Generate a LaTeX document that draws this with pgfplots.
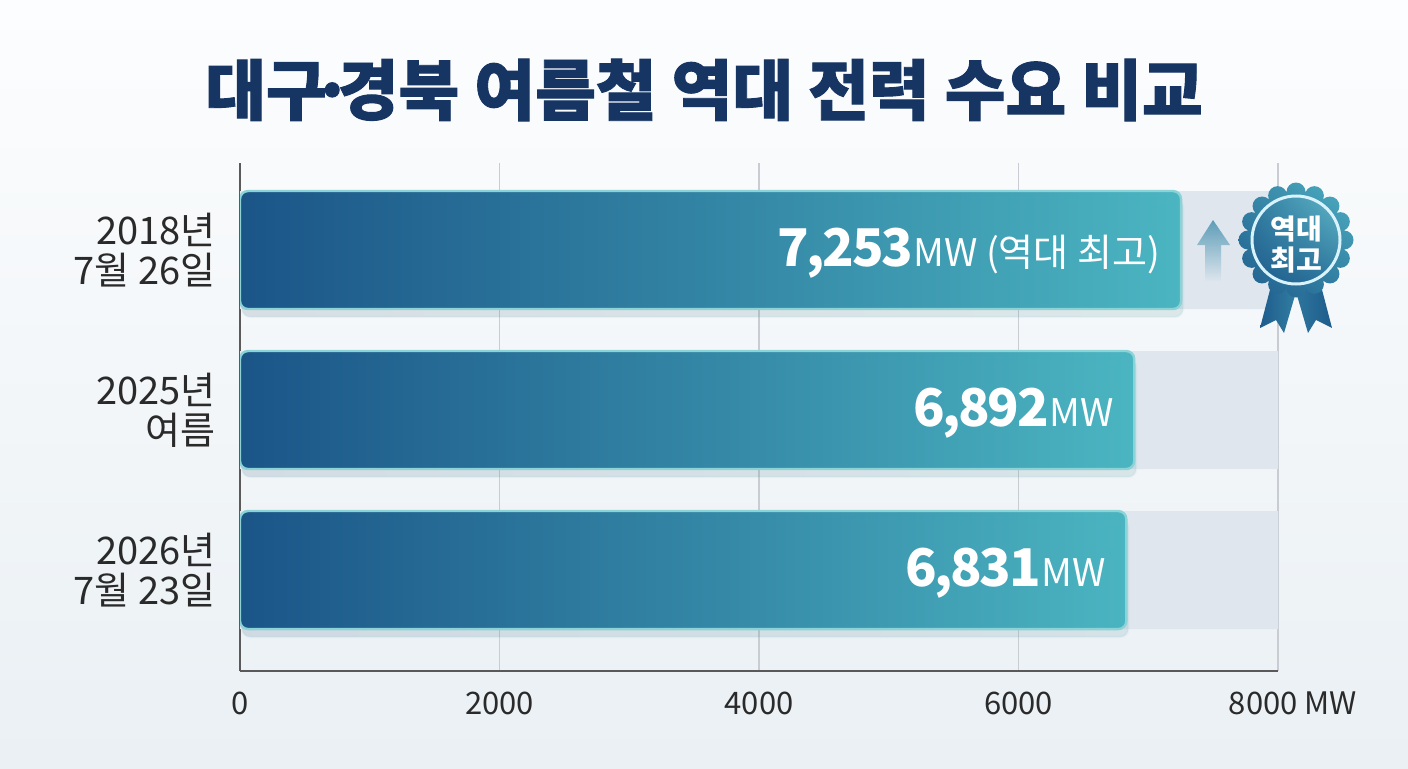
\documentclass[border=0pt]{standalone}
\usepackage{fontspec}
\setmainfont{Noto Sans CJK KR}
\newfontfamily\titlefont{Noto Sans CJK KR}[BoldFeatures={FakeBold=1.4}]
\newfontfamily\numfont{Noto Sans CJK KR}[LetterSpace=-4]
\usepackage{pgfplots}
\pgfplotsset{compat=1.18}
\usetikzlibrary{shadows,shadings}

\definecolor{titlenavy}{HTML}{163563}
\definecolor{bardark}{HTML}{1B5588}
\definecolor{barlight}{HTML}{4BB5C1}
\definecolor{barline}{HTML}{8CD3D8}
\definecolor{track}{HTML}{DFE6EE}
\definecolor{labelgray}{HTML}{2A2A2A}
\definecolor{gridgray}{HTML}{C9CDD3}
\definecolor{axisgray}{HTML}{5A5A5A}
\definecolor{bgtop}{HTML}{FCFDFE}
\definecolor{bgbot}{HTML}{EAF0F4}
\definecolor{badgedark}{HTML}{1E5C8C}
\definecolor{badgelight}{HTML}{4FB0C2}
\definecolor{arrowtop}{HTML}{5D9DB8}

\newcommand{\vlabel}[1]{{\fontsize{26}{30}\selectfont\numfont\bfseries\pgfmathprintnumber[fixed,precision=0,1000 sep={\kern-0.06em,\kern-0.04em},assume math mode=true]{#1}}{\fontsize{19}{22}\selectfont MW}}

\begin{document}
\begin{tikzpicture}[x=0.5pt,y=0.5pt]
\shade[use as bounding box, top color=bgtop, bottom color=bgbot] (0,0) rectangle (1408,768);

\node[font=\fontsize{33}{37}\selectfont\titlefont\bfseries, text=titlenavy] at (704,678) {대구\kern-0.22em·\kern-0.22em경북 여름철 역대 전력 수요 비교};

\begin{axis}[
  at={(120pt,48.5pt)}, anchor=south west,
  scale only axis, width=519pt, height=254pt,
  xbar, bar width=0.7375,
  xmin=0, xmax=8000, ymin=-0.631, ymax=2.544,
  axis x line*=bottom, axis y line*=left,
  axis line style={axisgray, line width=0.8pt, -},
  xtick={0,2000,4000,6000,8000},
  xticklabels={0,2000,4000,6000,{\hspace*{15pt}8000 MW}},
  ytick={0,1,2},
  yticklabels={{2026년\\7월 23일},{2025년\\여름},{2018년\\7월 26일}},
  major tick length=0pt,
  xmajorgrids, grid style={gridgray, line width=0.6pt},
  xticklabel style={font=\fontsize{15.5}{18}\selectfont, text=labelgray, anchor=center, yshift=-16pt},
  yticklabel style={font=\fontsize{19}{20}\selectfont, text=labelgray, align=right, anchor=east, inner sep=0pt, xshift=-12pt},
]
\addplot[bar shift=0pt, fill=track, draw=none] coordinates {(8000,0) (8000,1) (8000,2)};
\addplot[bar shift=0pt, left color=bardark, right color=barlight, draw=barline, line width=1.2pt, rounded corners=4pt,
  drop shadow={opacity=0.09, shadow xshift=1pt, shadow yshift=-4pt},
  point meta=x, nodes near coords={\vlabel{\pgfplotspointmeta}},
  every node near coord/.append style={anchor=east, xshift=-6.5pt, yshift=-1.5pt, text=white}]
  coordinates {(6831,0) (6892,1)};
\addplot[bar shift=0pt, left color=bardark, right color=barlight, draw=barline, line width=1.2pt, rounded corners=4pt,
  drop shadow={opacity=0.09, shadow xshift=1pt, shadow yshift=-4pt},
  point meta=x, nodes near coords={\vlabel{\pgfplotspointmeta}{\fontsize{19}{22}\selectfont\ (역대 최고)}},
  every node near coord/.append style={anchor=east, xshift=-6.5pt, yshift=-1.5pt, text=white}]
  coordinates {(7253,2)};
\end{axis}

% arrow
\shade[top color=arrowtop, bottom color=track] (1205,486) -- (1205,523) -- (1197,523) -- (1213,548) -- (1230,523) -- (1221,523) -- (1221,486) -- cycle;

% badge
\begin{scope}[shift={(1296,528)}]
  \shade[left color=badgedark, right color=badgedark!60!badgelight] (-24,-42) -- (0,-52) -- (-12,-93) -- (-20,-80) -- (-36,-88) -- cycle;
  \shade[left color=badgedark!70!badgelight, right color=badgedark] (24,-42) -- (0,-52) -- (12,-93) -- (20,-80) -- (36,-88) -- cycle;
  \shade[lower left=badgedark, upper right=badgelight, lower right=badgedark!60!badgelight, upper left=badgedark!50!badgelight]
    (0,0) circle (49) \foreach \a in {0,22.5,...,337.5} { (\a:48) circle (9.5) };
  \shade[lower left=badgedark, upper right=badgelight!90!white, lower right=badgedark!70!badgelight, upper left=badgedark!60!badgelight] (0,0) circle (44);
  \draw[white!85!cyan, line width=1.5pt] (0,0) circle (44);
  \node[text=white, font=\fontsize{14}{15.5}\selectfont\bfseries, align=center] at (0,-5) {역대\\최고};
\end{scope}
\end{tikzpicture}
\end{document}
